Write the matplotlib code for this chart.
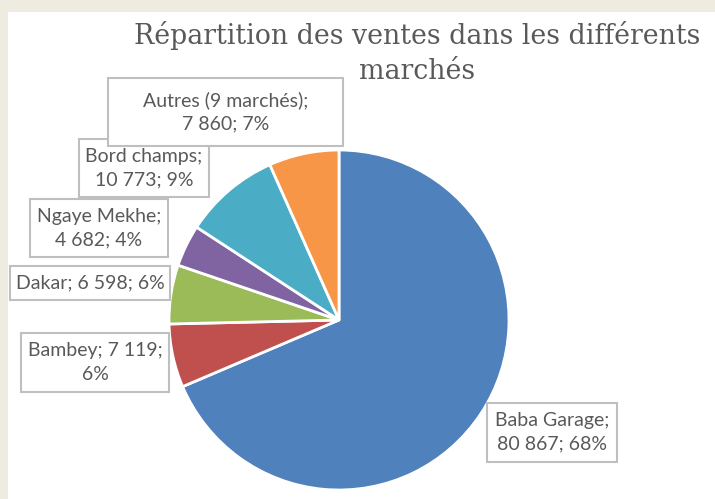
import matplotlib.pyplot as plt
from matplotlib.patches import Rectangle

# Données (ordre horaire à partir de midi)
marches = ["Baba Garage", "Bambey", "Dakar", "Ngaye Mekhe", "Bord champs", "Autres (9 marchés)"]
ventes = [80867, 7119, 6598, 4682, 10773, 7860]
pourcentages = [68, 6, 6, 4, 9, 7]
couleurs = ["#4F81BD", "#C0504D", "#9BBB59", "#8064A2", "#4BACC6", "#F79646"]

# Où couper chaque étiquette (comme dans Excel)
coupures = ["name", "value", "none", "name", "name", "name"]

# Boîtes des étiquettes en pixels (x0, y0 haut, x1, y1 bas)
boites = [
    (487, 403, 617, 462),
    (21, 333, 169, 392),
    (10, 266, 170, 300),
    (30, 199, 168, 257),
    (79, 139, 209, 197),
    (108, 78, 343, 146),
]

W, H = 715, 499
GRIS = "#595959"


def fmt(v):
    return f"{v:,}".replace(",", " ")


def etiquette(nom, val, pct, coupure):
    if coupure == "name":
        return f"{nom};\n{fmt(val)}; {pct}%"
    if coupure == "value":
        return f"{nom}; {fmt(val)};\n{pct}%"
    return f"{nom}; {fmt(val)}; {pct}%"


fig = plt.figure(figsize=(W / 100, H / 100), dpi=100)
fig.patch.set_facecolor("#EEEBE1")

# zone blanche du graphique
fig.patches.append(Rectangle((8 / W, 0), 1 - 8 / W, 1 - 12 / H,
                             transform=fig.transFigure, facecolor="white",
                             edgecolor="none", zorder=-1))

# camembert: centre (339, 320), rayon 170 px
cx, cy, r = 339, 320, 170
ax = fig.add_axes([(cx - r) / W, (H - cy - r) / H, 2 * r / W, 2 * r / H])
ax.set_zorder(1)
ax.pie(ventes, colors=couleurs, startangle=90, counterclock=False,
       wedgeprops=dict(edgecolor="white", linewidth=2))
ax.set_xlim(-1, 1)
ax.set_ylim(-1, 1)
ax.set_aspect("equal")
ax.axis("off")

fig.text(0.583, 1 - 53 / H, "Répartition des ventes dans les différents\nmarchés",
         ha="center", va="center", fontsize=19.3, color=GRIS,
         family="DejaVu Serif", linespacing=1.35, zorder=2)

for nom, val, pct, coup, (x0, y0, x1, y1) in zip(marches, ventes, pourcentages, coupures, boites):
    fig.patches.append(Rectangle((x0 / W, 1 - y1 / H), (x1 - x0) / W, (y1 - y0) / H,
                                 transform=fig.transFigure, facecolor="white",
                                 edgecolor="#BFBFBF", linewidth=1.5, zorder=3))
    fig.text((x0 + x1) / 2 / W, 1 - (y0 + y1) / 2 / H, etiquette(nom, val, pct, coup),
             ha="center", va="center", fontsize=14, color=GRIS,
             family="Lato", linespacing=1.45, zorder=4)

fig.savefig("out.png", dpi=100)
